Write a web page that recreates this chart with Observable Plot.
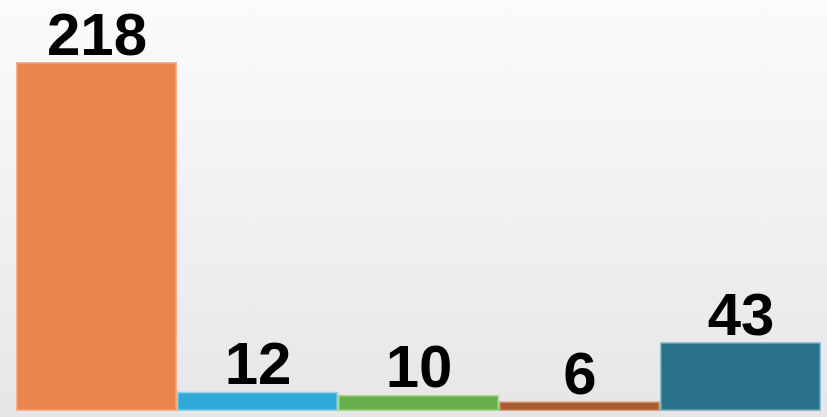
<!DOCTYPE html>
<html>
<head>
<meta charset="utf-8">
<script src="https://cdn.jsdelivr.net/npm/d3@7"></script>
<script src="https://cdn.jsdelivr.net/npm/@observablehq/plot@0.6"></script>
<style>
  html, body { margin: 0; padding: 0; }
  body { width: 827px; height: 417px; overflow: hidden;
         background: linear-gradient(to bottom, #fbfbfb 0%, #f1f1f1 50%, #e6e6e6 100%); }
  svg { display: block; background: transparent !important; }
</style>
</head>
<body>
<div id="chart"></div>
<script>
const categories = ["A", "B", "C", "D", "E"];
const values = [218, 12, 10, 6, 43];
const colors = ["#E9844E", "#31A9D8", "#66AF4A", "#A75B31", "#2A718B"];
const strokes = ["#F4B08A", "#8FD0EC", "#A8D592", "#D49A78", "#8DB6C6"];

const data = categories.map((c, i) => ({cat: c, value: values[i], fill: colors[i], stroke: strokes[i]}));

const chart = Plot.plot({
  width: 827,
  height: 417,
  marginTop: 62,
  marginBottom: 6,
  marginLeft: 15,
  marginRight: 5,
  style: {background: "transparent", fontFamily: "Liberation Sans, Arial, sans-serif"},
  x: {domain: categories, padding: 0, axis: null},
  y: {domain: [0, 218], axis: null},
  marks: [
    Plot.barY(data, {x: "cat", y: "value", fill: "fill", stroke: "stroke", strokeWidth: 1.5, inset: 0.75}),
    Plot.text(data, {x: "cat", y: "value", text: d => String(d.value), lineAnchor: "bottom", dy: -8,
      fontSize: 60, fontWeight: "bold", fill: "black"})
  ]
});
document.getElementById("chart").appendChild(chart);
</script>
</body>
</html>
